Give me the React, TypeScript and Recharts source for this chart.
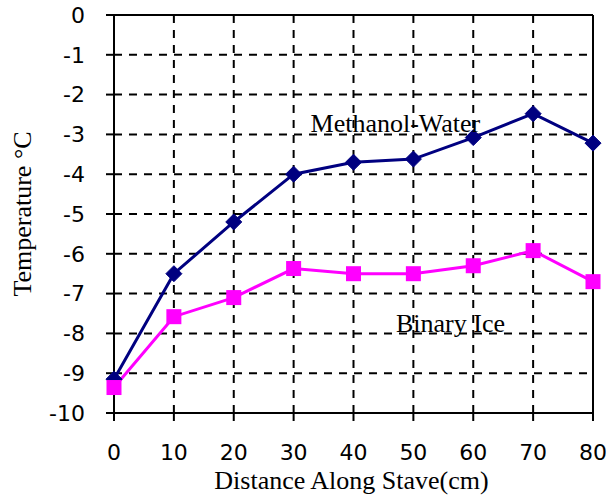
import React from 'react';
import {
  LineChart,
  Line,
  XAxis,
  YAxis,
  CartesianGrid,
  ReferenceLine,
  ReferenceDot,
  Label,
} from 'recharts';

const distances = [0, 10, 20, 30, 40, 50, 60, 70, 80];
const methanolWater = [-9.15, -6.5, -5.2, -4.0, -3.7, -3.62, -3.08, -2.48, -3.22];
const binaryIce = [-9.36, -7.58, -7.1, -6.37, -6.5, -6.5, -6.3, -5.92, -6.7];
const xTicks = [0, 10, 20, 30, 40, 50, 60, 70, 80];
const yTicks = [0, -1, -2, -3, -4, -5, -6, -7, -8, -9, -10];

const data = distances.map((d, i) => ({
  x: d,
  mw: methanolWater[i],
  bi: binaryIce[i],
}));

const SERIF = '"Liberation Serif", "Times New Roman", serif';
const SANS = '"DejaVu Sans", sans-serif';

// diamond marker for the methanol-water series
function Diamond(props: any) {
  const { cx, cy } = props;
  if (cx == null || cy == null) return null;
  const r = 8;
  return (
    <path
      d={`M${cx},${cy - r} L${cx + r},${cy} L${cx},${cy + r} L${cx - r},${cy} Z`}
      fill="#000080"
      stroke="#000080"
    />
  );
}

// square marker for binary ice
function Square(props: any) {
  const { cx, cy } = props;
  if (cx == null || cy == null) return null;
  const h = 7.5;
  return <rect x={cx - h} y={cy - h} width={h * 2} height={h * 2} fill="#ff00ff" />;
}

function YTitle({ viewBox }: any) {
  const x = 22;
  const y = viewBox.y + viewBox.height / 2;
  return (
    <text
      x={x}
      y={y}
      transform={`rotate(-90, ${x}, ${y})`}
      textAnchor="middle"
      dominantBaseline="central"
      fontFamily={SERIF}
      fontSize={26}
      fill="#000"
    >
      Temperature °C
    </text>
  );
}

function XTitle({ viewBox }: any) {
  const x = viewBox.x + viewBox.width / 2;
  return (
    <text x={x - 2} y={489} textAnchor="middle" fontFamily={SERIF} fontSize={26} fill="#000">
      Distance Along Stave(cm)
    </text>
  );
}

function SeriesLabel({ viewBox, value }: any) {
  const cx = viewBox.x + viewBox.width / 2;
  const cy = viewBox.y + viewBox.height / 2;
  return (
    <text x={cx} y={cy} textAnchor="middle" dominantBaseline="central" fontFamily={SERIF} fontSize={26} fill="#000">
      {value}
    </text>
  );
}

export default function App() {
  return (
    <div style={{ position: 'absolute', left: 0, top: 0, background: '#fff' }}>
      <LineChart
        width={607}
        height={498}
        data={data}
        margin={{ top: 15, right: 14, bottom: 0, left: 0 }}
      >
        <CartesianGrid stroke="#000" strokeWidth={2} strokeDasharray="8 7" />
        <XAxis
          dataKey="x"
          type="number"
          domain={[0, 80]}
          ticks={xTicks}
          height={85}
          stroke="#000"
          strokeWidth={2}
          tickSize={8}
          tickMargin={23}
          tick={{ fill: '#000', fontFamily: SANS, fontSize: 22 }}
          tickLine={{ stroke: '#000', strokeWidth: 2 }}
        >
          <Label content={<XTitle />} />
        </XAxis>
        <YAxis
          type="number"
          domain={[-10, 0]}
          ticks={yTicks}
          width={114}
          stroke="#000"
          strokeWidth={2}
          tickSize={8}
          tickMargin={21}
          tick={{ fill: '#000', fontFamily: SANS, fontSize: 22 }}
          tickLine={{ stroke: '#000', strokeWidth: 2 }}
        >
          <Label content={<YTitle />} />
        </YAxis>
        <ReferenceLine y={0} stroke="#000" strokeWidth={2} />
        <ReferenceLine x={80} stroke="#000" strokeWidth={2} />
        <Line
          dataKey="mw"
          stroke="#000080"
          strokeWidth={3}
          dot={<Diamond />}
          activeDot={false}
          isAnimationActive={false}
        />
        <Line
          dataKey="bi"
          stroke="#ff00ff"
          strokeWidth={3}
          dot={<Square />}
          activeDot={false}
          isAnimationActive={false}
        />
        <ReferenceDot x={47} y={-2.72} r={0} stroke="none" fill="none">
          <Label content={<SeriesLabel />} value="Methanol-Water" />
        </ReferenceDot>
        <ReferenceDot x={56.2} y={-7.75} r={0} stroke="none" fill="none">
          <Label content={<SeriesLabel />} value="Binary Ice" />
        </ReferenceDot>
      </LineChart>
    </div>
  );
}
